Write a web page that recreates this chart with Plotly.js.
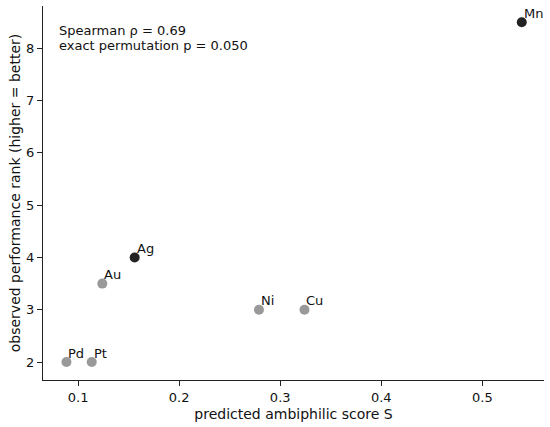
<!DOCTYPE html>
<html><head><meta charset="utf-8">
<script src="https://cdn.plot.ly/plotly-3.0.1.min.js"></script>
<style>html,body{margin:0;padding:0;background:#fff}#chart{width:550px;height:427px}</style>
</head><body><div id="chart"></div>
<script>
const metals = ["Pd","Pt","Au","Ag","Ni","Cu","Mn"];
const scoreS = [0.0885,0.1135,0.124,0.156,0.279,0.324,0.539];
const rank = [2,2,3.5,4,3,3,8.5];
const highlighted = [false,false,false,true,false,false,true];
const statsText = ["Spearman ρ = 0.69","exact permutation p = 0.050"];

const colors = highlighted.map(h => h ? "#222222" : "#999999");
const font = "DejaVu Sans, sans-serif";

const trace = {
  x: scoreS, y: rank, mode: "markers", type: "scatter",
  marker: {size: 10, color: colors},
  cliponaxis: false, hoverinfo: "none"
};

const labelAnns = metals.map((m, i) => ({
  x: scoreS[i], y: rank[i], xref: "x", yref: "y", text: m, showarrow: false,
  xanchor: "left", yanchor: "middle", xshift: 1, yshift: 9, borderpad: 0,
  font: {family: font, size: 13, color: "#111"}
}));

const statAnns = statsText.map((t, i) => ({
  xref: "paper", yref: "paper", x: 0.029, y: 0.934 - i * 0.039, xanchor: "left", yanchor: "middle",
  showarrow: false, text: t, borderpad: 0,
  font: {family: font, size: 13, color: "#111"}
}));

const layout = {
  width: 550, height: 427,
  margin: {l: 43, r: 6, t: 6, b: 47},
  paper_bgcolor: "#fff", plot_bgcolor: "#fff",
  font: {family: font, size: 13, color: "#111"},
  showlegend: false,
  xaxis: {
    range: [0.0653, 0.561], tickvals: [0.1,0.2,0.3,0.4,0.5],
    ticktext: ["0.1","0.2","0.3","0.4","0.5"],
    showgrid: false, zeroline: false, showline: true, linecolor: "#222", linewidth: 1.2,
    ticks: "outside", ticklen: 5, tickcolor: "#222",
    title: {text: "predicted ambiphilic score S", font: {family: font, size: 14, color: "#111"}, standoff: 5}
  },
  yaxis: {
    range: [1.656, 8.81], tickvals: [2,3,4,5,6,7,8],
    showgrid: false, zeroline: false, showline: true, linecolor: "#222", linewidth: 1.2,
    ticks: "outside", ticklen: 5, tickcolor: "#222",
    title: {text: "observed performance rank (higher = better)", font: {family: font, size: 14, color: "#111"}, standoff: 2}
  },
  annotations: statAnns.concat(labelAnns)
};

Plotly.newPlot("chart", [trace], layout, {displayModeBar: false, staticPlot: true});
</script></body></html>
